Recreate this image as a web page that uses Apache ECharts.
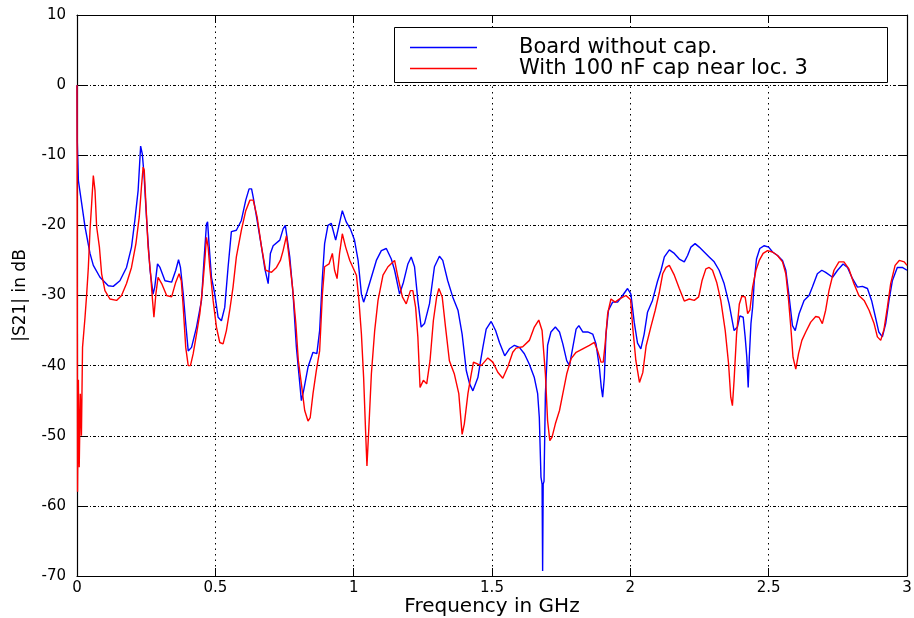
<!DOCTYPE html>
<html><head><meta charset="utf-8">
<script src="https://cdn.jsdelivr.net/npm/echarts@6/dist/echarts.min.js"></script>
<style>html,body{margin:0;padding:0;background:#fff}#c{width:914px;height:618px}</style>
</head><body><div id="c"></div>
<script>
const seriesNames = ['Board without cap.', 'With 100 nF cap near loc. 3'];
const xAxisTicks = [0, 0.5, 1, 1.5, 2, 2.5, 3];
const yAxisTicks = [10, 0, -10, -20, -30, -40, -50, -60, -70];

const freqBlue = [0,0.001,0.005,0.017,0.029,0.047,0.059,0.083,0.113,0.131,0.155,0.179,0.197,0.209,0.221,0.230,0.236,0.242,0.249,0.254,0.264,0.275,0.281,0.291,0.300,0.318,0.342,0.357,0.367,0.374,0.384,0.393,0.402,0.414,0.432,0.450,0.459,0.468,0.472,0.478,0.486,0.498,0.510,0.522,0.534,0.546,0.558,0.576,0.594,0.610,0.622,0.631,0.637,0.651,0.667,0.679,0.691,0.699,0.709,0.733,0.745,0.753,0.759,0.769,0.781,0.793,0.802,0.811,0.819,0.835,0.853,0.867,0.877,0.887,0.895,0.907,0.919,0.935,0.947,0.959,0.973,0.988,1.003,1.016,1.028,1.036,1.048,1.064,1.082,1.100,1.118,1.136,1.148,1.166,1.180,1.196,1.208,1.220,1.232,1.244,1.256,1.274,1.292,1.310,1.322,1.340,1.358,1.377,1.392,1.407,1.419,1.431,1.449,1.458,1.467,1.479,1.497,1.513,1.527,1.546,1.563,1.581,1.599,1.617,1.635,1.653,1.665,1.671,1.677,1.681,1.683,1.685,1.688,1.693,1.701,1.713,1.729,1.744,1.756,1.770,1.780,1.792,1.804,1.814,1.828,1.846,1.864,1.876,1.888,1.895,1.900,1.906,1.912,1.921,1.936,1.954,1.972,1.990,2.002,2.014,2.026,2.038,2.050,2.062,2.080,2.098,2.111,2.123,2.141,2.159,2.177,2.195,2.207,2.219,2.234,2.249,2.267,2.285,2.303,2.321,2.339,2.357,2.375,2.387,2.396,2.408,2.415,2.421,2.426,2.430,2.436,2.442,2.448,2.456,2.468,2.484,2.500,2.514,2.532,2.550,2.562,2.574,2.586,2.596,2.610,2.628,2.646,2.658,2.676,2.692,2.706,2.731,2.749,2.769,2.785,2.803,2.821,2.839,2.857,2.872,2.886,2.898,2.911,2.923,2.935,2.947,2.965,2.983,3.000];
const s21Blue = [0,-8,-13.6,-16.9,-20.2,-24.0,-25.7,-27.4,-28.6,-28.7,-27.9,-26.0,-23.1,-19.3,-15.0,-8.7,-9.8,-12.6,-17.4,-20.7,-26.4,-29.8,-28.8,-25.5,-26.0,-27.9,-28.1,-26.4,-24.9,-26.0,-29.8,-34.0,-37.9,-37.4,-34.5,-30.7,-25.0,-19.8,-19.5,-23.1,-27.4,-29.8,-33.1,-33.6,-31.7,-26.0,-20.9,-20.7,-19.3,-16.4,-14.8,-14.8,-16.0,-19.3,-23.1,-26.2,-28.3,-24.0,-22.9,-22.1,-20.5,-20.0,-20.2,-24.5,-29.8,-37.4,-41.2,-45.0,-43.6,-40.2,-38.1,-38.3,-35.0,-27.4,-22.6,-20.0,-19.7,-22.1,-20.0,-17.9,-19.5,-20.5,-22.1,-25.0,-29.8,-30.95,-29.5,-27.4,-25.0,-23.6,-23.3,-24.8,-26.4,-29.8,-28.1,-25.5,-24.5,-25.9,-30.7,-34.5,-34.0,-31.2,-25.9,-24.4,-25.0,-27.9,-30.2,-32.1,-35.5,-40.7,-42.6,-43.6,-41.7,-39.5,-37.4,-34.8,-33.7,-35.0,-36.7,-38.6,-37.6,-37.1,-37.4,-38.3,-39.8,-41.7,-44.0,-47.4,-55.9,-56.9,-69.3,-56.9,-56.5,-44.0,-37.1,-35.2,-34.5,-35.2,-36.9,-39.3,-40.0,-37.4,-34.8,-34.3,-35.2,-35.2,-35.5,-36.9,-40.2,-43.1,-44.5,-41.7,-35.5,-32.1,-30.95,-30.95,-30.0,-29.0,-29.8,-33.8,-36.8,-37.6,-35.5,-32.4,-30.7,-28.0,-26.4,-24.5,-23.5,-24.0,-24.8,-25.2,-24.3,-23.1,-22.6,-23.1,-23.8,-24.5,-25.2,-26.4,-28.3,-31.2,-35.0,-34.5,-32.9,-33.1,-35.9,-38.8,-43.1,-38.8,-34.0,-31.7,-27.9,-24.8,-23.3,-22.9,-23.1,-23.8,-24.3,-25.0,-26.4,-30.2,-34.3,-35.0,-32.6,-30.7,-30.0,-28.8,-26.9,-26.4,-26.7,-27.4,-26.4,-25.5,-26.0,-27.6,-28.8,-28.7,-29.0,-30.7,-33.1,-35.2,-35.9,-34.0,-30.7,-27.9,-26.0,-26.0,-26.4];

const freqRed = [0,0.002,0.005,0.008,0.012,0.016,0.020,0.029,0.035,0.041,0.047,0.053,0.059,0.065,0.071,0.081,0.089,0.101,0.119,0.143,0.161,0.179,0.197,0.213,0.225,0.233,0.239,0.243,0.249,0.257,0.266,0.273,0.278,0.285,0.293,0.306,0.324,0.342,0.357,0.369,0.377,0.384,0.393,0.402,0.410,0.420,0.432,0.444,0.454,0.462,0.468,0.474,0.480,0.492,0.504,0.516,0.528,0.540,0.552,0.564,0.576,0.594,0.610,0.625,0.637,0.651,0.667,0.682,0.703,0.721,0.735,0.745,0.757,0.765,0.779,0.791,0.800,0.811,0.823,0.835,0.843,0.853,0.865,0.877,0.887,0.895,0.911,0.923,0.931,0.940,0.949,0.959,0.971,0.986,1.010,1.019,1.028,1.036,1.043,1.048,1.055,1.064,1.076,1.088,1.106,1.124,1.148,1.160,1.176,1.190,1.205,1.214,1.224,1.232,1.240,1.252,1.264,1.276,1.288,1.300,1.308,1.320,1.332,1.346,1.364,1.380,1.392,1.400,1.413,1.425,1.433,1.449,1.461,1.485,1.503,1.521,1.539,1.557,1.575,1.587,1.611,1.635,1.653,1.669,1.681,1.693,1.701,1.709,1.717,1.729,1.744,1.756,1.770,1.786,1.804,1.828,1.852,1.870,1.882,1.894,1.902,1.909,1.918,1.930,1.945,1.960,1.984,2.001,2.009,2.020,2.033,2.045,2.057,2.074,2.090,2.105,2.117,2.129,2.141,2.159,2.177,2.195,2.213,2.231,2.247,2.259,2.273,2.285,2.297,2.312,2.327,2.343,2.355,2.363,2.369,2.375,2.384,2.394,2.403,2.415,2.424,2.432,2.442,2.454,2.466,2.480,2.496,2.514,2.532,2.550,2.562,2.572,2.580,2.588,2.598,2.608,2.620,2.634,2.652,2.670,2.682,2.694,2.706,2.718,2.736,2.754,2.772,2.790,2.808,2.826,2.845,2.863,2.881,2.893,2.905,2.917,2.929,2.941,2.957,2.972,2.990,3.000];
const s21Red = [0,-58,-42,-54.5,-44,-50,-37.4,-33.1,-29.8,-26.0,-20.7,-16.9,-12.9,-15.0,-20.2,-23.1,-26.9,-29.3,-30.5,-30.7,-30.0,-28.3,-26.0,-22.6,-18.8,-14.5,-11.7,-12.1,-16.9,-23.1,-26.9,-30.7,-33.1,-29.8,-27.4,-28.3,-30.0,-30.2,-28.1,-26.9,-27.9,-31.7,-37.4,-40.0,-40.0,-38.3,-35.5,-32.6,-28.8,-25.0,-21.7,-23.1,-26.0,-30.7,-34.5,-36.7,-36.9,-35.0,-32.1,-28.8,-24.5,-20.7,-17.9,-16.4,-16.4,-18.8,-23.1,-26.4,-26.7,-26.0,-25.0,-23.6,-21.5,-24.0,-28.8,-34.0,-39.3,-42.6,-46.4,-47.9,-47.4,-44.0,-40.7,-37.9,-29.8,-25.9,-25.5,-24.0,-26.4,-27.6,-24.0,-21.2,-23.1,-25.0,-27.1,-30.7,-35.5,-41.7,-49.3,-54.3,-48.8,-41.2,-35.0,-30.7,-27.1,-25.9,-25.0,-27.4,-30.2,-31.2,-29.3,-29.3,-31.7,-35.9,-43.1,-42.1,-42.6,-39.3,-33.6,-30.2,-29.0,-30.2,-34.5,-39.3,-41.2,-44.0,-49.8,-48.3,-44.0,-41.2,-39.5,-39.8,-40.0,-38.9,-39.5,-40.95,-41.8,-40.2,-38.1,-37.5,-37.3,-36.4,-34.5,-33.5,-35.0,-41.2,-47.9,-50.7,-50.2,-48.3,-46.4,-44.0,-41.2,-39.0,-38.1,-37.6,-37.1,-36.7,-37.9,-39.5,-39.5,-36.9,-32.6,-30.5,-30.95,-30.5,-30.0,-30.6,-34.7,-39.3,-42.4,-41.0,-37.2,-34.5,-32.1,-29.5,-26.9,-26.0,-25.7,-27.1,-29.0,-30.8,-30.5,-30.7,-30.2,-27.9,-26.2,-26.0,-26.4,-28.1,-30.7,-35.0,-39.7,-44.5,-45.7,-42.1,-35.5,-31.2,-30.1,-30.2,-32.6,-32.1,-28.8,-26.4,-25.0,-24.0,-23.6,-23.8,-24.3,-25.2,-26.9,-30.7,-34.5,-38.8,-40.5,-38.3,-36.4,-35.2,-33.8,-33.0,-33.1,-34.0,-32.1,-29.3,-26.4,-25.2,-25.2,-26.2,-28.3,-30.0,-30.7,-32.1,-34.0,-35.9,-36.4,-34.8,-31.7,-28.3,-25.7,-25.0,-25.2,-25.7];

const zip = (xs, ys) => xs.map((x, i) => [x, ys[i]]);
const FONT = 'DejaVu Sans';

const chart = echarts.init(document.getElementById('c'), null, {renderer: 'canvas'});
const tickStyle = {show: true, inside: true, length: 8, lineStyle: {color: '#000', width: 1}};
const axLine = {show: true, onZero: false, lineStyle: {color: '#000', width: 1.2}};
chart.setOption({
  animation: false,
  backgroundColor: '#fff',
  grid: {left: 77, right: 7, top: 15, bottom: 42, containLabel: false, outerBoundsMode: 'none'},
  xAxis: [{
    type: 'value', min: xAxisTicks[0], max: xAxisTicks[xAxisTicks.length - 1], interval: 0.5,
    position: 'bottom',
    name: 'Frequency in GHz', nameLocation: 'middle', nameGap: 21, nameMoveOverlap: false,
    nameTextStyle: {fontFamily: FONT, fontSize: 20, color: '#000'},
    axisLine: axLine, axisTick: tickStyle,
    axisLabel: {fontFamily: FONT, fontSize: 15, color: '#000', margin: 5},
    splitLine: {show: true, lineStyle: {color: '#000', width: 1, type: [1.5, 4]}}
  }, {
    type: 'value', min: 0, max: 3, interval: 0.5, position: 'top',
    axisLine: axLine, axisTick: tickStyle, axisLabel: {show: false}, splitLine: {show: false}
  }],
  yAxis: [{
    type: 'value', min: yAxisTicks[yAxisTicks.length - 1], max: yAxisTicks[0], interval: 10,
    position: 'left',
    name: '|S21| in dB', nameLocation: 'middle', nameGap: 48, nameMoveOverlap: false,
    nameTextStyle: {fontFamily: FONT, fontSize: 17, color: '#000'},
    axisLine: axLine, axisTick: tickStyle,
    axisLabel: {fontFamily: FONT, fontSize: 15, color: '#000', margin: 11},
    splitLine: {show: true, lineStyle: {color: '#000', width: 1, type: [3, 2, 1, 2]}}
  }, {
    type: 'value', min: -70, max: 10, interval: 10, position: 'right',
    axisLine: axLine, axisTick: tickStyle, axisLabel: {show: false}, splitLine: {show: false}
  }],
  legend: {
    orient: 'vertical', left: 410, top: 37, padding: 0, itemGap: 0,
    icon: 'rect', itemWidth: 67, itemHeight: 1.5, z: 101,
    textStyle: {fontFamily: FONT, fontSize: 21, color: '#000', lineHeight: 19, padding: [0, 0, 0, 37]},
    data: seriesNames
  },
  graphic: [{
    type: 'rect', z: 100,
    shape: {x: 394.5, y: 27.5, width: 493, height: 55},
    style: {fill: '#fff', stroke: '#000', lineWidth: 1}
  }],
  series: [{
    name: seriesNames[0], type: 'line', symbol: 'none', showSymbol: false,
    data: zip(freqBlue, s21Blue),
    lineStyle: {color: '#0000ff', width: 1.4}, itemStyle: {color: '#0000ff'}
  }, {
    name: seriesNames[1], type: 'line', symbol: 'none', showSymbol: false,
    data: zip(freqRed, s21Red),
    lineStyle: {color: '#ff0000', width: 1.4}, itemStyle: {color: '#ff0000'}
  }]
});
</script></body></html>
